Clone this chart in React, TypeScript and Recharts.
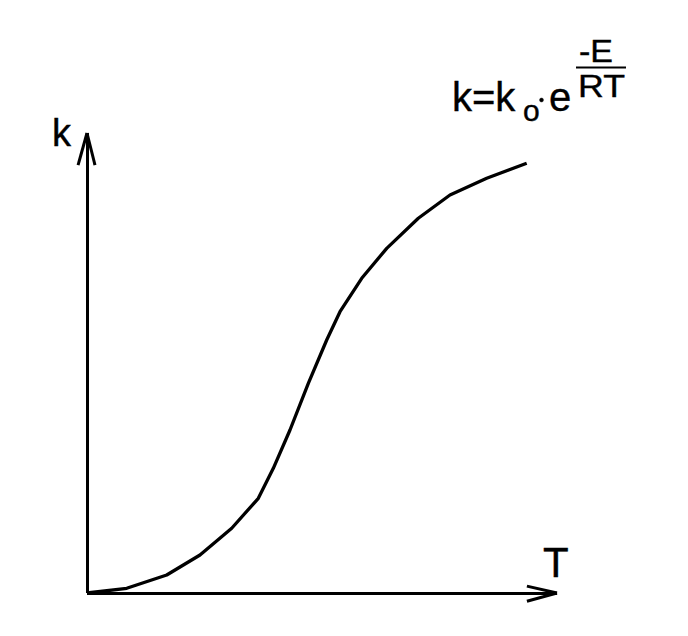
import React from "react";
import { LineChart, Line, XAxis, YAxis, ReferenceLine } from "recharts";

// Temperature (relative units along the T axis)
const temperature = [0, 8.45, 16.96, 24.04, 30.79, 36.45, 39.64, 43.19, 47.09, 51.0, 53.83, 58.45, 63.77, 70.49, 77.23, 85.04, 93.55];
// Rate constant k (relative units)
const rateK = [0, 1.02, 3.91, 8.26, 14.07, 20.59, 27.11, 35.43, 45.59, 55.0, 61.15, 68.41, 74.93, 81.46, 86.52, 90.15, 93.41];

const axisLabels = { x: "T", y: "k" };

const data = temperature.map((t, i) => ({ t, k: rateK[i] }));

const W = 688;
const H = 636;
const FONT = "'Liberation Sans', Arial, Helvetica, sans-serif";

export default function App() {
  return (
    <div style={{ position: "absolute", left: 0, top: 0, width: W, height: H, background: "#fff" }}>
      <LineChart
        width={W}
        height={H}
        data={data}
        margin={{ top: 133, right: 131, bottom: 43, left: 87 }}
      >
        <XAxis type="number" dataKey="t" domain={[0, 100]} hide />
        <YAxis type="number" domain={[0, 100]} hide />
        {/* axes with arrows */}
        <ReferenceLine segment={[{ x: 0, y: 0 }, { x: 100, y: 0 }]} stroke="#000" strokeWidth={3} ifOverflow="visible" shapeRendering="crispEdges" />
        <ReferenceLine segment={[{ x: 93.6, y: 1.5 }, { x: 100, y: 0 }]} stroke="#000" strokeWidth={3} ifOverflow="visible" />
        <ReferenceLine segment={[{ x: 93.6, y: -1.8 }, { x: 100, y: 0 }]} stroke="#000" strokeWidth={3} ifOverflow="visible" />
        <ReferenceLine segment={[{ x: 0, y: 0 }, { x: 0, y: 100 }]} stroke="#000" strokeWidth={3} ifOverflow="visible" shapeRendering="crispEdges" />
        <ReferenceLine segment={[{ x: -1.9, y: 93 }, { x: 0, y: 100 }]} stroke="#000" strokeWidth={3} ifOverflow="visible" />
        <ReferenceLine segment={[{ x: 1.7, y: 93 }, { x: 0, y: 100 }]} stroke="#000" strokeWidth={3} ifOverflow="visible" />
        <Line
          type="linear"
          dataKey="k"
          stroke="#000"
          strokeWidth={3.3}
          strokeLinejoin="round"
          dot={false}
          activeDot={false}
          isAnimationActive={false}
        />
      </LineChart>
      <svg
        width={W}
        height={H}
        style={{ position: "absolute", left: 0, top: 0, pointerEvents: "none" }}
        fontFamily={FONT}
        stroke="#000"
        strokeWidth={0.4}
      >
        <text x={52} y={146} fontSize={38} fill="#000">{axisLabels.y}</text>
        <text x={543} y={577} fontSize={42} fill="#000">{axisLabels.x}</text>
        {/* formula k = k0 · e^(-E/RT) */}
        <text x={452} y={111} fontSize={40} fill="#000">k=k</text>
        <text x={523} y={121} fontSize={30} fill="#000">o</text>
        <circle cx={541.5} cy={100} r={2} fill="#000" />
        <text x={549} y={111} fontSize={40} fill="#000">e</text>
        <text x={579} y={62} fontSize={31} textLength={34} lengthAdjust="spacingAndGlyphs" fill="#000">-E</text>
        <line x1={576} y1={67.5} x2={626} y2={67.5} stroke="#000" strokeWidth={2} />
        <text x={578} y={97} fontSize={32} textLength={47} lengthAdjust="spacingAndGlyphs" fill="#000">RT</text>
      </svg>
    </div>
  );
}
